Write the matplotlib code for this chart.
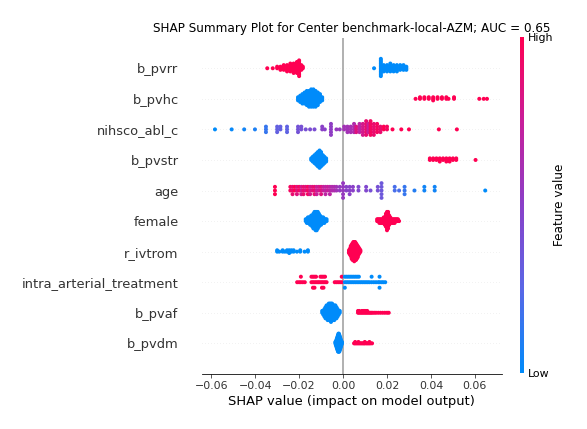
import numpy as np
import matplotlib
matplotlib.use("Agg")
import matplotlib.pyplot as plt
from matplotlib.colors import LinearSegmentedColormap
from matplotlib.cm import ScalarMappable

title = "SHAP Summary Plot for Center benchmark-local-AZM; AUC = 0.65"
xlabel = "SHAP value (impact on model output)"

# each feature: (shap value, feature value 0..1, number of samples)
b_pvrr = [(-0.0345, 1, 1), (-0.0320, 1, 1), (-0.0300, 1, 2), (-0.0285, 1, 3),
          (-0.0270, 1, 4), (-0.0255, 1, 5), (-0.0240, 1, 6), (-0.0225, 1, 7),
          (-0.0210, 1, 8), (-0.0200, 1, 11), (-0.0190, 1, 4), (-0.0183, 1, 2),
          (0.0141, 0, 1), (0.0172, 0, 12), (0.0185, 0, 5), (0.0200, 0, 5),
          (0.0215, 0, 6), (0.0230, 0, 5), (0.0245, 0, 5), (0.0260, 0, 4),
          (0.0275, 0, 4), (0.0288, 0, 3)]

b_pvhc = [(-0.0205, 0, 3), (-0.0195, 0, 5), (-0.0185, 0, 7), (-0.0175, 0, 8),
          (-0.0165, 0, 10), (-0.0155, 0, 11), (-0.0145, 0, 12), (-0.0135, 0, 12),
          (-0.0125, 0, 11), (-0.0115, 0, 9), (-0.0105, 0, 6), (-0.0095, 0, 3),
          (0.0330, 1, 1), (0.0350, 1, 2), (0.0370, 1, 2), (0.0390, 1, 2),
          (0.0410, 1, 3), (0.0430, 1, 2), (0.0450, 1, 2), (0.0470, 1, 2),
          (0.0480, 1, 1), (0.0505, 1, 2), (0.0620, 1, 1), (0.0640, 1, 1),
          (0.0655, 1, 1)]

nihsco_abl_c = [(-0.0583, 0.0, 1), (-0.0507, 0.02, 1), (-0.0450, 0.05, 1),
                (-0.0401, 0.08, 1), (-0.0351, 0.15, 3), (-0.0300, 0.3, 3),
                (-0.0285, 0.3, 2), (-0.0255, 0.28, 3), (-0.0205, 0.38, 3),
                (-0.0190, 0.4, 2), (-0.0170, 0.4, 1), (-0.0150, 0.42, 1),
                (-0.0130, 0.42, 1), (-0.0095, 0.5, 2), (-0.0083, 0.5, 1),
                (-0.0055, 0.52, 5), (-0.0030, 0.55, 1), (-0.0015, 0.55, 1),
                (0.0005, 0.6, 2), (0.0020, 0.6, 3), (0.0035, 0.62, 3),
                (0.0050, 0.65, 4), (0.0060, 0.85, 3), (0.0075, 0.7, 4),
                (0.0090, 0.8, 5), (0.0105, 0.9, 6), (0.0115, 0.75, 4),
                (0.0125, 0.95, 6), (0.0140, 0.9, 5), (0.0155, 0.95, 4),
                (0.0170, 0.9, 3), (0.0185, 1.0, 2), (0.0200, 0.95, 2),
                (0.0225, 1.0, 1), (0.0265, 1.0, 1), (0.0300, 1.0, 1),
                (0.0436, 1.0, 1), (0.0518, 1.0, 1)]

b_pvstr = [(-0.0145, 0, 2), (-0.0138, 0, 4), (-0.0130, 0, 6), (-0.0122, 0, 8),
           (-0.0115, 0, 10), (-0.0107, 0, 12), (-0.0100, 0, 10), (-0.0092, 0, 7),
           (-0.0085, 0, 5), (-0.0077, 0, 3),
           (0.0395, 1, 2), (0.0410, 1, 2), (0.0425, 1, 2), (0.0440, 1, 3),
           (0.0455, 1, 2), (0.0470, 1, 3), (0.0485, 1, 3), (0.0500, 1, 2),
           (0.0515, 1, 2), (0.0603, 1, 1)]

age = [(-0.0310, 1.0, 3), (-0.0240, 0.95, 2), (-0.0230, 0.9, 3), (-0.0220, 1.0, 2),
       (-0.0210, 0.85, 3), (-0.0200, 0.95, 2), (-0.0190, 0.8, 3), (-0.0180, 0.9, 3),
       (-0.0170, 0.85, 2), (-0.0160, 0.95, 3), (-0.0150, 0.8, 3), (-0.0140, 0.85, 2),
       (-0.0130, 0.9, 3), (-0.0120, 0.75, 3), (-0.0110, 0.8, 2), (-0.0100, 0.85, 3),
       (-0.0090, 0.75, 2), (-0.0080, 0.7, 3), (-0.0070, 0.75, 2), (-0.0060, 0.7, 3),
       (-0.0050, 0.65, 2), (-0.0040, 0.65, 2), (-0.0030, 0.6, 2), (-0.0015, 0.55, 2),
       (0.0000, 0.55, 5), (0.0015, 0.5, 2), (0.0030, 0.5, 3), (0.0045, 0.5, 2),
       (0.0070, 0.45, 2), (0.0105, 0.45, 2), (0.0125, 0.4, 1), (0.0158, 0.4, 2),
       (0.0175, 0.35, 5), (0.0235, 0.2, 2), (0.0255, 0.2, 1), (0.0280, 0.15, 3),
       (0.0325, 0.1, 1), (0.0370, 0.05, 2), (0.0417, 0.05, 2), (0.0647, 0.0, 1)]

female = [(-0.0170, 0, 2), (-0.0165, 0, 3), (-0.0160, 0, 4), (-0.0155, 0, 4),
          (-0.0150, 0, 5), (-0.0145, 0, 6), (-0.0140, 0, 7), (-0.0135, 0, 9),
          (-0.0130, 0, 10), (-0.0125, 0, 11), (-0.0120, 0, 11), (-0.0115, 0, 10),
          (-0.0110, 0, 8), (-0.0105, 0, 6), (-0.0100, 0, 5), (-0.0095, 0, 4),
          (-0.0090, 0, 4), (-0.0085, 0, 3), (-0.0080, 0, 2), (-0.0075, 0, 2),
          (0.0155, 1, 2), (0.0160, 1, 2), (0.0165, 1, 3), (0.0170, 1, 3),
          (0.0175, 1, 3), (0.0180, 1, 3), (0.0185, 1, 4), (0.0190, 1, 5),
          (0.0195, 1, 8), (0.0200, 1, 11), (0.0205, 1, 10), (0.0210, 1, 6),
          (0.0215, 1, 4), (0.0220, 1, 3), (0.0225, 1, 3), (0.0230, 1, 3),
          (0.0235, 1, 3), (0.0240, 1, 2), (0.0245, 1, 2), (0.0250, 1, 2),
          (0.0255, 1, 1)]

r_ivtrom = [(-0.0300, 0, 2), (-0.0290, 0, 1), (-0.0275, 0, 2), (-0.0265, 0, 1),
            (-0.0255, 0, 2), (-0.0245, 0, 3), (-0.0235, 0, 2), (-0.0225, 0, 2),
            (-0.0210, 0, 1), (-0.0195, 0, 2), (-0.0175, 0, 1), (-0.0160, 0, 2),
            (0.0027, 1, 3), (0.0031, 1, 5), (0.0035, 1, 8), (0.0039, 1, 11),
            (0.0043, 1, 13), (0.0047, 1, 14), (0.0051, 1, 15), (0.0055, 1, 14),
            (0.0059, 1, 13), (0.0063, 1, 11), (0.0067, 1, 9), (0.0071, 1, 6),
            (0.0075, 1, 4), (0.0079, 1, 2)]

intra_arterial_treatment = [
    (-0.0209, 1, 1), (-0.0200, 1, 1), (-0.0192, 1, 2), (-0.0183, 1, 1),
    (-0.0174, 1, 1), (-0.0144, 1, 2), (-0.0137, 1, 3), (-0.0130, 1, 3),
    (-0.0123, 1, 2), (-0.0116, 1, 1), (-0.0110, 1, 1), (-0.0103, 1, 2),
    (-0.0096, 1, 3), (-0.0089, 1, 3), (-0.0082, 1, 2), (-0.0075, 1, 1),
    (-0.0038, 1, 1), (-0.0030, 1, 1), (-0.0022, 1, 1), (-0.0014, 1, 1),
    (-0.0006, 1, 2),
    (0.0008, 0, 3), (0.0016, 0, 2), (0.0024, 0, 2), (0.0032, 0, 2),
    (0.0040, 0, 2), (0.0048, 0, 2), (0.0056, 0, 2), (0.0064, 0, 2),
    (0.0072, 0, 2), (0.0080, 0, 1), (0.0088, 0, 1), (0.0096, 0, 1),
    (0.0104, 0, 1), (0.0112, 0, 1), (0.0120, 0, 1), (0.0130, 0, 2),
    (0.0140, 0, 1), (0.0150, 0, 1), (0.0160, 0, 1), (0.0166, 0, 3),
    (0.0175, 0, 1), (0.0183, 0, 1), (0.0192, 0, 1)]

b_pvaf = [(-0.0095, 0, 2), (-0.0090, 0, 3), (-0.0085, 0, 5), (-0.0080, 0, 7),
          (-0.0075, 0, 8), (-0.0070, 0, 9), (-0.0065, 0, 10), (-0.0060, 0, 10),
          (-0.0055, 0, 11), (-0.0050, 0, 10), (-0.0045, 0, 9), (-0.0040, 0, 9),
          (-0.0035, 0, 8), (-0.0030, 0, 7), (-0.0025, 0, 5), (-0.0020, 0, 3),
          (-0.0015, 0, 2),
          (0.0068, 1, 2), (0.0074, 1, 2), (0.0080, 1, 1), (0.0086, 1, 2),
          (0.0092, 1, 2), (0.0098, 1, 2), (0.0104, 1, 2), (0.0110, 1, 2),
          (0.0116, 1, 1), (0.0122, 1, 1), (0.0128, 1, 1), (0.0134, 1, 1),
          (0.0142, 1, 1), (0.0150, 1, 1), (0.0160, 1, 1), (0.0170, 1, 1),
          (0.0180, 1, 1), (0.0190, 1, 1), (0.0200, 1, 1), (0.0208, 1, 1)]

b_pvdm = [(-0.0035, 0, 2), (-0.0033, 0, 3), (-0.0031, 0, 5), (-0.0029, 0, 7),
          (-0.0027, 0, 9), (-0.0025, 0, 11), (-0.0023, 0, 13), (-0.0021, 0, 14),
          (-0.0019, 0, 14), (-0.0017, 0, 13), (-0.0015, 0, 11), (-0.0013, 0, 9),
          (-0.0011, 0, 7), (-0.0009, 0, 5), (-0.0007, 0, 3), (-0.0005, 0, 2),
          (0.0050, 1, 1), (0.0055, 1, 2), (0.0060, 1, 1), (0.0065, 1, 1),
          (0.0070, 1, 2), (0.0075, 1, 1), (0.0080, 1, 1), (0.0085, 1, 1),
          (0.0090, 1, 1), (0.0095, 1, 1), (0.0099, 1, 2), (0.0105, 1, 1),
          (0.0110, 1, 1), (0.0115, 1, 1), (0.0120, 1, 2), (0.0125, 1, 1),
          (0.0132, 1, 1)]

# top to bottom
feature_names = ["b_pvrr", "b_pvhc", "nihsco_abl_c", "b_pvstr", "age", "female",
                 "r_ivtrom", "intra_arterial_treatment", "b_pvaf", "b_pvdm"]
feature_rows = [b_pvrr, b_pvhc, nihsco_abl_c, b_pvstr, age, female,
                r_ivtrom, intra_arterial_treatment, b_pvaf, b_pvdm]

# shap-like red/blue map
red_blue = LinearSegmentedColormap.from_list(
    "red_blue", ["#008bfa", "#5a67e6", "#8a40c8", "#c81e9a", "#ff0052"])
axis_color = "#333333"


def beeswarm(shaps, row_height=0.4):
    # same stacking rule as shap.summary_plot
    nbins = 100
    quant = np.round(nbins * (shaps - shaps.min()) / (shaps.max() - shaps.min() + 1e-8))
    inds = np.argsort(quant, kind="stable")
    layer = 0
    last_bin = -1
    ys = np.zeros(len(shaps))
    for ind in inds:
        if quant[ind] != last_bin:
            layer = 0
        ys[ind] = np.ceil(layer / 2) * ((layer % 2) * 2 - 1)
        layer += 1
        last_bin = quant[ind]
    ys *= 0.9 * (row_height / np.max(ys + 1))
    return ys


fig = plt.figure(figsize=(587 / 72, 429 / 72), dpi=72)
ax = fig.add_axes([202 / 587, 55.1 / 429, 299.7 / 587, 336.2 / 429])

n_feat = len(feature_names)
for i, (name, rows) in enumerate(zip(feature_names, feature_rows)):
    pos = n_feat - 1 - i
    ax.axhline(y=pos, color="#cccccc", lw=0.5, dashes=(1, 5), zorder=-1)
    counts = [r[2] for r in rows]
    shaps = np.repeat([r[0] for r in rows], counts).astype(float)
    fvals = np.repeat([r[1] for r in rows], counts).astype(float)
    ys = beeswarm(shaps)
    ax.scatter(shaps, pos + ys, c=fvals, cmap=red_blue, vmin=0, vmax=1,
               s=16, linewidth=0, alpha=1, zorder=3, rasterized=True)

ax.axvline(x=0, color="#999999", zorder=-1)
ax.set_xlim(-0.0642, 0.0722)
ax.set_ylim(-1, n_feat)
ax.set_yticks(range(n_feat))
ax.set_yticklabels(feature_names[::-1], fontsize=13)
ax.xaxis.set_ticks_position("bottom")
ax.yaxis.set_ticks_position("none")
for side in ["right", "top", "left"]:
    ax.spines[side].set_visible(False)
ax.tick_params(color=axis_color, labelcolor=axis_color)
ax.tick_params("y", length=20, width=0.5, which="major")
ax.tick_params("x", labelsize=11)
ax.set_xlabel(xlabel, fontsize=13)
ax.set_title(title, fontsize=12)

cax = fig.add_axes([520 / 587, 56 / 429, 4 / 587, 336 / 429])
sm = ScalarMappable(cmap=red_blue)
sm.set_array([0, 1])
cb = fig.colorbar(sm, cax=cax, ticks=[0, 1])
cb.set_ticklabels(["Low", "High"])
cb.set_label("Feature value", size=12, labelpad=0)
cb.ax.tick_params(labelsize=11, length=0)
cb.outline.set_visible(False)

fig.savefig("out.png", dpi=72)
